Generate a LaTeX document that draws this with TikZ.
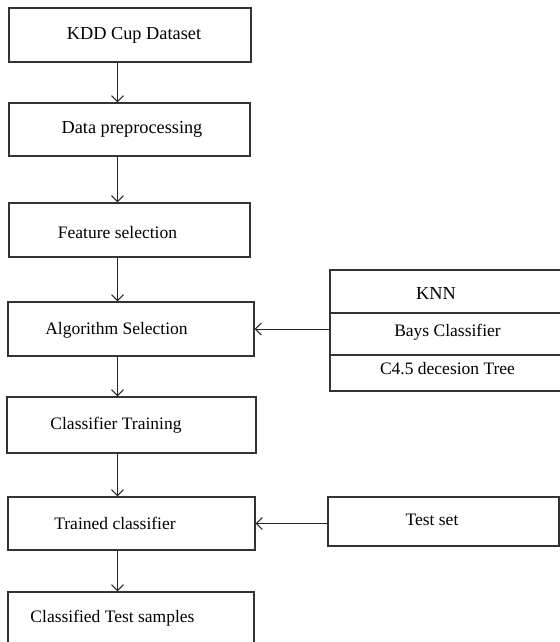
\documentclass[tikz,border=0pt]{standalone}
\usepackage{fontspec}
\setmainfont{Liberation Serif}
\usetikzlibrary{arrows.meta}
\tikzset{
  box/.style={draw=black!80, line width=1.2bp, inner sep=0pt},
  txt/.style={font=\fontsize{17.5bp}{20bp}\selectfont, inner sep=0pt},
  big/.style={font=\fontsize{18.3bp}{20bp}\selectfont},
  arr/.style={draw=black!85, line width=1bp, -{Straight Barb[length=6bp,width=12bp]}}
}
\begin{document}
\begin{tikzpicture}[x=1bp,y=-1bp]
  \useasboundingbox (0,0) rectangle (560,642);
  \coordinate (col) at (117.5,0);

  % main column
  \node[box,minimum width=242bp,minimum height=54bp,label={[txt,big,xshift=4bp]center:KDD Cup Dataset}] (A) at (130,35) {};
  \node[box,minimum width=241bp,minimum height=53bp,label={[txt,big,xshift=2.5bp]center:Data preprocessing}] (B) at (129.5,129.5) {};
  \node[box,minimum width=241bp,minimum height=54bp,label={[txt,xshift=-12bp,yshift=-3bp]center:Feature selection}] (C) at (129.5,230) {};
  \node[box,minimum width=246bp,minimum height=54bp,label={[txt,xshift=-14.5bp,yshift=-1bp]center:Algorithm Selection}] (D) at (131,329) {};
  \node[box,minimum width=249bp,minimum height=56bp,label={[txt,xshift=-15.5bp]center:Classifier Training}] (E) at (131.5,425) {};
  \node[box,minimum width=247bp,minimum height=53bp,label={[txt,xshift=-16.5bp]center:Trained classifier}] (F) at (131.5,523.5) {};
  \node[box,minimum width=246bp,minimum height=54bp,label={[txt,xshift=-18.5bp,yshift=1bp]center:Classified Test samples}] (G) at (131,619) {};

  % classifiers and test data
  \node[box,minimum width=235bp,minimum height=43bp,label={[txt,big,xshift=-11.5bp,yshift=-2.5bp]center:KNN}] (knn) at (447.5,291.5) {};
  \node[box,minimum width=235bp,minimum height=42bp,label={[txt,yshift=2bp]center:Bays Classifier}] (bays) at (447.5,334) {};
  \node[box,minimum width=235bp,minimum height=36bp,label={[txt,yshift=4bp]center:C4.5 decesion Tree}] (c45) at (447.5,373) {};
  \node[box,minimum width=231bp,minimum height=49bp,label={[txt,xshift=-11.5bp,yshift=1.5bp]center:Test set}] (test) at (443.5,521.5) {};

  \draw[arr] (A.south -| col) -- (B.north -| col);
  \draw[arr] (B.south -| col) -- (C.north -| col);
  \draw[arr] (C.south -| col) -- (D.north -| col);
  \draw[arr] (D.south -| col) -- (E.north -| col);
  \draw[arr] (E.south -| col) -- (F.north -| col);
  \draw[arr] (F.south -| col) -- (G.north -| col);
  \draw[arr] (bays.west |- D.east) -- (D.east);
  \draw[arr] (test.west |- F.east) -- (F.east);
\end{tikzpicture}
\end{document}
